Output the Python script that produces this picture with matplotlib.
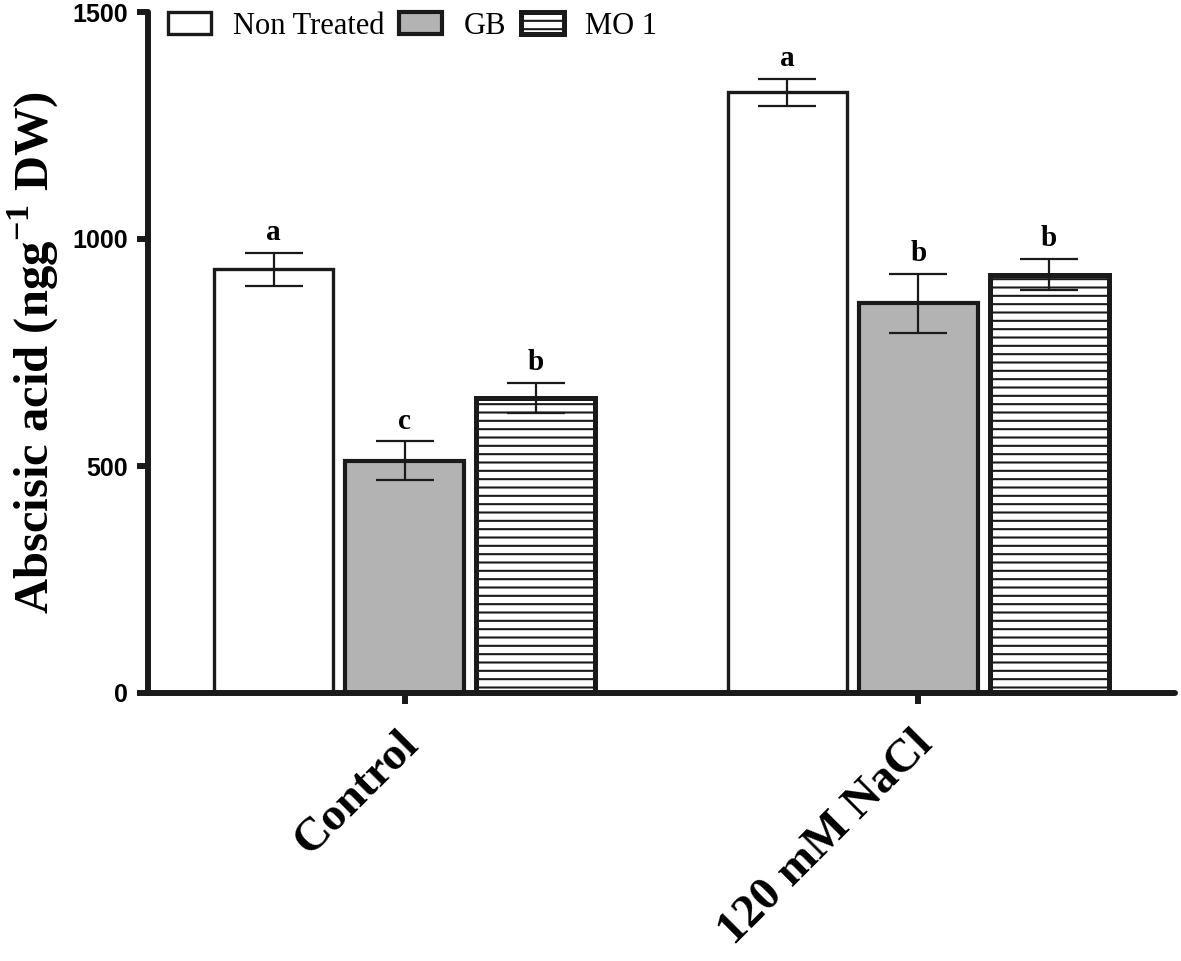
import matplotlib
matplotlib.use('Agg')
import matplotlib.pyplot as plt
import matplotlib.transforms as mtransforms
import numpy as np

# data
groups = ['Control', '120 mM NaCl']
treatments = ['Non Treated', 'GB', 'MO 1']
means = {
    'Non Treated': [933, 1323],
    'GB': [512, 858],
    'MO 1': [650, 921],
}
errs = {
    'Non Treated': [37, 29],
    'GB': [42, 64],
    'MO 1': [33, 34],
}
letters = {
    'Non Treated': ['a', 'a'],
    'GB': ['c', 'b'],
    'MO 1': ['b', 'b'],
}

plt.rcParams['hatch.linewidth'] = 1.5
plt.rcParams['mathtext.fontset'] = 'custom'
plt.rcParams['mathtext.rm'] = 'Liberation Serif'
plt.rcParams['mathtext.bf'] = 'Liberation Serif:bold'

fig = plt.figure(figsize=(11.81, 9.61), dpi=100)
ax = fig.add_axes([148 / 1181, 1 - 693 / 961, 1027 / 1181, 681 / 961])

styles = {
    'Non Treated': dict(color='white', edgecolor='#1a1a1a', linewidth=2.4, hatch=None),
    'GB': dict(color='#b3b3b3', edgecolor='#1a1a1a', linewidth=3.0, hatch=None),
    'MO 1': dict(color='white', edgecolor='#1a1a1a', linewidth=3.6, hatch='--'),
}

x = np.arange(len(groups))
off = 0.255
width = 0.232
for i, t in enumerate(treatments):
    xs = x + (i - 1) * off
    st = styles[t]
    ax.bar(xs, means[t], width, color=st['color'], edgecolor=st['edgecolor'],
           linewidth=st['linewidth'], hatch=st['hatch'], label=t, zorder=2)
    ax.errorbar(xs, means[t], yerr=errs[t], fmt='none', ecolor='#1a1a1a',
                elinewidth=1.6, capsize=21, capthick=1.6, zorder=3)
    for xi, m, e, lab in zip(xs, means[t], errs[t], letters[t]):
        ax.annotate(lab, (xi, m + e), xytext=(0, 5), textcoords='offset points',
                    ha='center', va='bottom', fontsize=21, fontweight='bold',
                    family='Liberation Serif')

ax.set_xlim(-0.5, 1.5)
ax.set_ylim(0, 1500)
ax.set_yticks([0, 500, 1000, 1500])
ax.set_xticks(x)
ax.set_xticklabels([])
# rotated group labels, anchored at their right end just below each tick
shift = mtransforms.ScaledTranslation(8 / 100, -45 / 100, fig.dpi_scale_trans)
for xi, g in zip(x, groups):
    ax.text(xi, 0, g, transform=ax.get_xaxis_transform() + shift,
            rotation=45, ha='right', va='center', rotation_mode='anchor',
            fontsize=34, fontweight='bold', family='Liberation Serif')
for lab in ax.get_yticklabels():
    lab.set_fontsize(18)
    lab.set_fontweight('bold')
    lab.set_family('Liberation Sans')

for s in ['top', 'right']:
    ax.spines[s].set_visible(False)
for s in ['left', 'bottom']:
    ax.spines[s].set_linewidth(4.3)
    ax.spines[s].set_color('#1a1a1a')
    ax.spines[s].set_capstyle('round')
ax.tick_params(axis='both', width=4.3, length=8, color='#1a1a1a')
ax.tick_params(axis='y', pad=6.5)

ax.set_ylabel(r'Abscisic acid (ngg$^{\mathbf{-1}}$ DW)', fontsize=35,
              fontweight='bold', family='Liberation Serif')
ax.yaxis.set_label_coords(-0.085, 0.5)

leg = ax.legend(loc='upper left', bbox_to_anchor=(0.008, 1.018), ncol=3, frameon=False,
                prop={'family': 'Liberation Serif', 'size': 22},
                handlelength=1.4, handleheight=0.75, handletextpad=0.7,
                columnspacing=0.5, borderaxespad=0)

fig.savefig('out.png', dpi=100)
